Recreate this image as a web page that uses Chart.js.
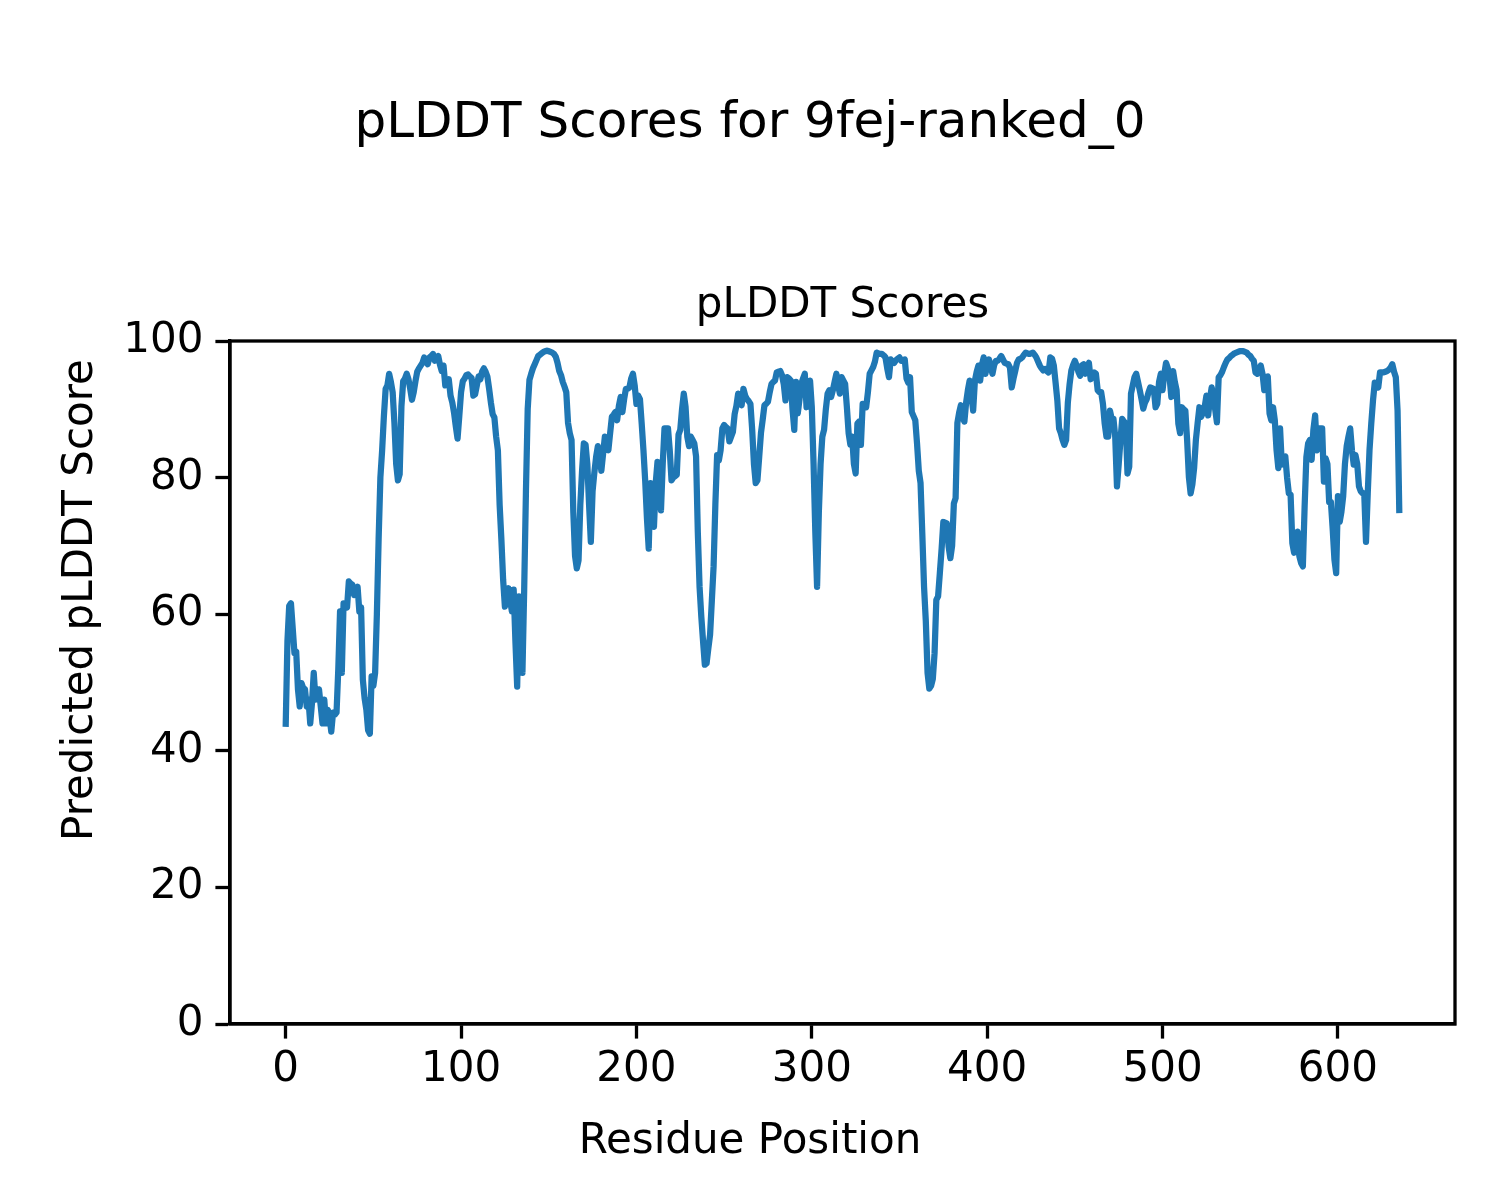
<!DOCTYPE html>
<html>
<head>
<meta charset="utf-8">
<script src="https://cdn.jsdelivr.net/npm/chart.js@4.4.1/dist/chart.umd.min.js"></script>
<style>
  html, body { margin: 0; padding: 0; background: #fff; }
  #wrap { width: 1500px; height: 1200px; }
</style>
</head>
<body>
<div id="wrap"><canvas id="plddtChart" width="1500" height="1200"></canvas></div>
<script>
const SUPTITLE = 'pLDDT Scores for 9fej-ranked_0';
const AX_TITLE = 'pLDDT Scores';
const X_LABEL = 'Residue Position';
const Y_LABEL = 'Predicted pLDDT Score';

const X_TICKS = [0, 100, 200, 300, 400, 500, 600];
const Y_TICKS = [0, 20, 40, 60, 80, 100];

// pLDDT par résidu, index 0..635
const PLDDT = [
  43.5, 56, 61.2, 61.6, 58, 54.3, 54.5, 49, 46.5, 49.9,
  49.2, 49, 46.5, 47.5, 44, 47, 51.4, 47.5, 48, 49,
  46.5, 44, 47.5, 44, 46, 45, 42.8, 45.6, 45.3, 45.6,
  52, 60.4, 51.4, 61.6, 61.3, 61, 64.8, 64.5, 64.3, 62.8,
  63.5, 64, 60.4, 61, 50.4, 47.7, 46, 43, 42.5, 50.9,
  49.5, 51.4, 60, 71, 80, 84, 89, 93, 93.5, 95.2,
  94, 92.5, 88, 82, 79.6, 80.5, 90.4, 94.1, 94.5, 95.2,
  94.4, 93, 91.4, 92.5, 94.1, 95.5, 96, 96.4, 96.8, 97.6,
  97, 96.6, 97.6, 97.8, 98.1, 97.1, 97.5, 97.8, 96.5, 95.6,
  96.4, 93.5, 94, 94.4, 92, 91, 89.5, 87.5, 85.7, 89,
  92.5, 94.1, 94.5, 95, 95.1, 94.8, 94.6, 92, 92.2, 93.5,
  94.8, 94.4, 95.5, 96, 95.5, 94.8, 93, 91, 89.3, 88.8,
  86, 84, 76, 70.9, 65, 61.1, 62.5, 63.8, 62, 60.4,
  63.6, 56, 49.4, 62.6, 56, 51.4, 63.6, 78, 90, 94.3,
  95.2, 96, 96.6, 97.2, 97.8, 98, 98.2, 98.4, 98.5, 98.6,
  98.5, 98.4, 98.3, 98.1, 97.7, 96.8, 95.6, 95, 94, 93.3,
  92.5, 88, 86.5, 85.5, 75, 68.5, 66.7, 67.9, 76, 81,
  85, 84.8, 82, 76, 70.6, 78, 80.7, 83, 84.6, 83,
  81, 83.5, 86, 85, 84, 86.5, 88.9, 89.2, 89.6, 88.4,
  90.5, 91.8, 89.6, 91.5, 93, 93, 93.2, 94.5, 95.2, 93.5,
  90.8, 92, 91.5, 87.9, 84, 79.5, 74, 69.6, 79.2, 75,
  72.8, 79.2, 82.3, 80, 75.2, 82, 87.2, 87.2, 87.2, 84,
  79.6, 80, 80.2, 80.4, 86.3, 87, 90, 92.3, 90.4, 86,
  84.6, 86, 85.5, 85, 83.1, 72, 64, 59.6, 56, 52.6,
  52.8, 55, 57, 62, 67, 76, 83.3, 82.5, 84, 87.2,
  87.7, 87.4, 87.2, 85.3, 86, 86.7, 89.3, 90.5, 92.3, 91.5,
  90.6, 93, 92, 91.5, 91.2, 90.8, 87, 82, 79.2, 79.6,
  83, 86.5, 88.5, 90.6, 90.8, 91.1, 92.5, 93.7, 94, 94.2,
  95.4, 95.5, 95.6, 95, 93.7, 91.3, 94.7, 94.5, 94.2, 90,
  87, 94, 89.4, 91.5, 93.7, 94.5, 95.2, 90.3, 92.5, 94.2,
  90.3, 82, 72, 64, 74.8, 82, 86, 87, 90, 92.3,
  92.8, 91.8, 92.8, 94, 95.2, 93.5, 92.3, 94.7, 94.2, 93.7,
  90.3, 86.5, 84.8, 86, 82, 80.6, 87.9, 88.2, 84.8, 90.8,
  90.5, 90.3, 92.5, 95.2, 95.7, 96.2, 97, 98.3, 98.2, 98.1,
  98.1, 97.9, 97.6, 96, 94.7, 97.3, 97, 96.8, 97.2, 97.4,
  97.6, 97.1, 97.2, 97.3, 94.5, 93.9, 94.7, 89.6, 89, 88.4,
  85, 81, 79.2, 71.8, 64, 59, 51.4, 49.1, 49.5, 50.5,
  54.3, 62.1, 62.6, 66, 69.5, 73.5, 73.4, 73.3, 69.9, 68.2,
  70, 76.2, 77, 88, 89.5, 90.6, 88.9, 88.2, 91, 92.8,
  94.2, 92, 89.8, 94.2, 95.5, 96.4, 94.2, 96.5, 97.6, 95.2,
  96.5, 97.3, 96.2, 95.2, 96.5, 97.1, 97.1, 97.4, 97.8, 97.3,
  96.8, 96.7, 96.6, 96.1, 93.2, 94.5, 95.6, 96.8, 97.3, 97.4,
  97.6, 98, 98.3, 98.2, 98.1, 98.2, 98.3, 98, 97.6, 97,
  96.4, 96, 95.7, 95.9, 95.6, 95.4, 97.6, 97.4, 96.4, 93.9,
  91.3, 87.2, 86.5, 85.5, 84.8, 85.5, 91, 93.7, 95.7, 96.5,
  97.1, 96.4, 95.5, 94.9, 96.4, 96.6, 95.2, 96.2, 96.8, 94.4,
  95, 95.4, 95.2, 92.8, 92.5, 92.5, 90.8, 87.9, 86, 86,
  89.8, 88.6, 88.6, 86, 78.7, 82, 85.5, 88.6, 88.2, 87.9,
  80.6, 81.6, 92.3, 93.5, 94.7, 95.2, 94, 92.8, 91.5, 90.1,
  91, 91.5, 92.5, 93.2, 93.1, 93, 90.3, 90.8, 94, 95.2,
  92.8, 95.2, 96.8, 96, 94.7, 91.8, 95.6, 94, 92.8, 87.9,
  86.5, 90.3, 90, 89.8, 85.5, 80.1, 77.7, 79, 81.4, 85.5,
  88, 90.3, 88.9, 89.5, 90.3, 92, 89.1, 91.5, 93.2, 92,
  90, 88.1, 94.7, 95, 95.5, 96.2, 96.8, 97.3, 97.5, 97.8,
  98, 98.2, 98.3, 98.4, 98.5, 98.5, 98.5, 98.4, 98.3, 98,
  97.8, 97.4, 97.1, 95.4, 95.2, 95.8, 96.4, 95.2, 92.8, 94.7,
  94.8, 89.4, 88.4, 90.3, 88.4, 84, 81.4, 87.2, 81.9, 83,
  83.1, 80, 77.7, 77.5, 70.4, 69, 70.5, 72.1, 68.5, 67.5,
  67, 75.7, 83, 85, 85.5, 82.6, 87, 89.1, 84, 87.2,
  87.2, 87.2, 79.4, 82.8, 82, 76.4, 76.4, 72.5, 68, 66,
  77.3, 73.5, 75, 77.3, 82, 84.6, 86, 87.2, 84, 81.9,
  83.3, 82, 78.7, 78, 77.7, 77.7, 70.6, 77.7, 84, 87.9,
  91.3, 93.9, 93.5, 93.2, 95.4, 95.4, 95.4, 95.5, 95.6, 95.8,
  96.1, 96.6, 95.5, 94.7, 89.8, 74.8
];

const FONT = 'DejaVu Sans';

// cadre + textes de la figure (suptitle, titre d'axe, labels)
const figText = {
  id: 'figText',
  afterDraw(chart) {
    const { ctx, chartArea: a } = chart;
    ctx.save();
    ctx.strokeStyle = '#000';
    ctx.lineWidth = 3.3;
    ctx.strokeRect(a.left, a.top, a.right - a.left, a.bottom - a.top);

    ctx.fillStyle = '#000';
    ctx.textAlign = 'center';
    ctx.textBaseline = 'alphabetic';
    ctx.font = `50px "${FONT}"`;
    ctx.fillText(SUPTITLE, 750, 137);
    ctx.font = `42px "${FONT}"`;
    ctx.fillText(AX_TITLE, (a.left + a.right) / 2, 317);
    ctx.fillText(X_LABEL, 750, 1153);
    ctx.translate(92, 600);
    ctx.rotate(-Math.PI / 2);
    ctx.fillText(Y_LABEL, 0, 0);
    ctx.restore();
  }
};

const ctx = document.getElementById('plddtChart').getContext('2d');
new Chart(ctx, {
  type: 'line',
  data: {
    datasets: [{
      data: PLDDT.map((v, i) => ({ x: i, y: v })),
      borderColor: '#1f77b4',
      borderWidth: 6.25,
      borderJoinStyle: 'round',
      pointRadius: 0,
      tension: 0,
      fill: false
    }]
  },
  options: {
    responsive: false,
    animation: false,
    layout: { padding: { left: 0, right: 45, top: 341, bottom: 0 } },
    plugins: {
      legend: { display: false },
      tooltip: { enabled: false }
    },
    scales: {
      x: {
        type: 'linear',
        min: -31.75,
        max: 666.75,
        afterFit: s => { s.height = 176; },
        afterBuildTicks: s => { s.ticks = X_TICKS.map(v => ({ value: v })); },
        grid: { drawOnChartArea: false, drawTicks: true, tickLength: 14.6, tickWidth: 3.3, tickColor: '#000' },
        border: { display: true, color: '#000', width: 3.3 },
        ticks: { color: '#000', padding: 6, maxRotation: 0, font: { family: FONT, size: 42 } }
      },
      y: {
        type: 'linear',
        min: 0,
        max: 100,
        afterFit: s => { s.width = 230; },
        afterBuildTicks: s => { s.ticks = Y_TICKS.map(v => ({ value: v })); },
        grid: { drawOnChartArea: false, drawTicks: true, tickLength: 14.6, tickWidth: 3.3, tickColor: '#000' },
        border: { display: true, color: '#000', width: 3.3 },
        ticks: { color: '#000', padding: 12, font: { family: FONT, size: 42 } }
      }
    }
  },
  plugins: [figText]
});
</script>
</body>
</html>
